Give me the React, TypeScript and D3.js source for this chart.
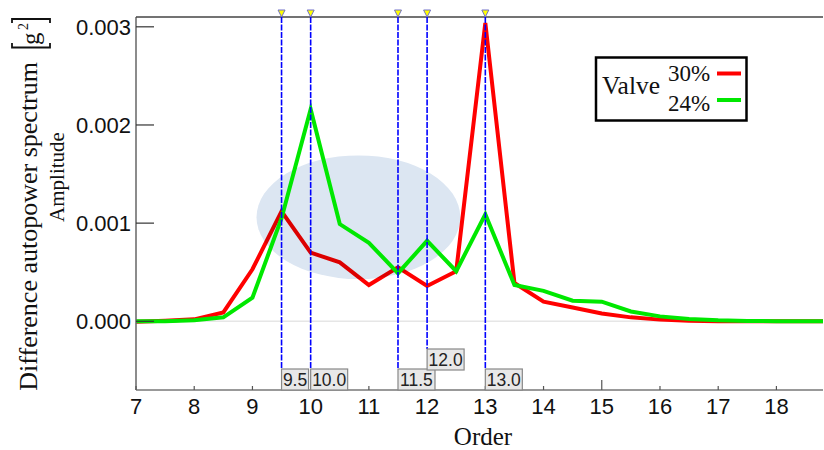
import React from "react";
import * as d3 from "d3";

// order axis samples (0.5 order step)
const orders = [7, 7.5, 8, 8.5, 9, 9.5, 10, 10.5, 11, 11.5, 12, 12.5, 13, 13.5, 14, 14.5, 15, 15.5, 16, 16.5, 17, 17.5, 18, 18.5, 19];
const valve30 = [-0.000005, 0.000005, 0.00002, 0.00009, 0.00053, 0.00112, 0.0007, 0.0006, 0.00037, 0.00055, 0.00036, 0.00051, 0.00304, 0.00039, 0.0002, 0.00014, 0.00008, 0.00004, 0.000017, 0.000005, 0, 0, 0, 0, 0];
const valve24 = [0, 0, 0.00001, 0.00004, 0.00024, 0.00105, 0.00216, 0.00099, 0.0008, 0.00049, 0.00082, 0.00051, 0.00109, 0.00037, 0.00031, 0.00021, 0.0002, 0.0001, 0.00005, 0.000024, 0.00001, 0.000004, 0, 0, 0];

const xTicks = [7, 8, 9, 10, 11, 12, 13, 14, 15, 16, 17, 18];
const yTicks = [0, 0.001, 0.002, 0.003];

// cursor markers and their label row (0 = on axis, 1 = raised)
const cursors = [9.5, 10, 11.5, 12, 13];
const cursorRows = [0, 0, 0, 1, 0];

// highlighted region (data units)
const highlight = { order: 10.82, amp: 0.00106, orderR: 1.75, ampR: 0.00063 };

const W = 824;
const H = 450;
const left = 136;
const right = 823;
const top = 17;
const bottom = 390;

const SANS = "'Liberation Sans', Arial, sans-serif";
const SERIF = "'Liberation Serif', 'Times New Roman', serif";

export default function App() {
  const x = d3.scaleLinear().domain([7, 18.8]).range([left, right]);
  const y = d3.scaleLinear().domain([-0.0007, 0.0031]).range([bottom, top]);

  const line = (vals: number[]) =>
    d3.line<number>().x((_, i) => x(orders[i])).y((d) => y(d))(vals) || "";

  const fmtY = d3.format(".3f");
  const fmtC = d3.format(".1f");

  const ex = x(highlight.order);
  const ey = y(highlight.amp);
  const erx = x(highlight.order + highlight.orderR) - ex;
  const ery = ey - y(highlight.amp + highlight.ampR);

  return (
    <svg width={W} height={H} style={{ position: "absolute", left: 0, top: 0, background: "#fff" }}>
      <defs>
        <clipPath id="plot">
          <rect x={left} y={top} width={right - left} height={bottom - top} />
        </clipPath>
      </defs>

      {/* zero line */}
      <line x1={left} x2={right} y1={y(0)} y2={y(0)} stroke="#e6e6e6" strokeWidth={1.5} />

      <g clipPath="url(#plot)">
        <path d={line(valve30)} fill="none" stroke="#ff0000" strokeWidth={4} />
        <ellipse cx={ex} cy={ey} rx={erx} ry={ery} fill="#dce6f2" style={{ mixBlendMode: "multiply" }} />
        <path d={line(valve24)} fill="none" stroke="#00e800" strokeWidth={4} />
      </g>

      {/* axes */}
      <line x1={left} x2={left} y1={top} y2={bottom} stroke="#666" strokeWidth={1.5} />
      <line x1={left} x2={right} y1={bottom} y2={bottom} stroke="#777" strokeWidth={1.5} />
      <line x1={left} x2={right} y1={top} y2={top} stroke="#444" strokeWidth={1.5} />

      {yTicks.map((t) => (
        <g key={t}>
          <line x1={left} x2={left + 18} y1={y(t)} y2={y(t)} stroke="#333" strokeWidth={1.2} />
          <text x={left - 5} y={y(t)} dy="0.36em" textAnchor="end" fontFamily={SANS} fontSize={22} fill="#111">
            {fmtY(t)}
          </text>
        </g>
      ))}

      {xTicks.map((t) => (
        <g key={t}>
          <line x1={x(t)} x2={x(t)} y1={bottom} y2={bottom - (t % 5 === 0 ? 10 : 4)} stroke="#555" strokeWidth={1.2} />
          <text x={x(t)} y={414} textAnchor="middle" fontFamily={SANS} fontSize={22} fill="#111">
            {t}
          </text>
        </g>
      ))}

      {/* cursors */}
      {cursors.map((c, i) => {
        const cx = x(c);
        const label = fmtC(c);
        const bw = label.length * 10 - 3;
        const by = bottom - 21 - cursorRows[i] * 20;
        return (
          <g key={c}>
            <line x1={cx} x2={cx} y1={top} y2={by} stroke="#0000ff" strokeWidth={1.6} strokeDasharray="6,1.5" />
            <path d={`M${cx - 3.5},10 L${cx + 3.5},10 L${cx},17 Z`} fill="#ffff00" stroke="#7070c8" strokeWidth={1} />
            <rect x={cx} y={by} width={bw} height={21} fill="#e8e8e8" stroke="#888" strokeWidth={1.2} />
            <text x={cx + bw / 2} y={by + 16.5} textAnchor="middle" fontFamily={SANS} fontSize={17.5} fill="#222">
              {label}
            </text>
          </g>
        );
      })}

      {/* legend */}
      <rect x={596} y={57.5} width={150.5} height={63} fill="#fff" stroke="#000" strokeWidth={2.5} />
      <text x={602} y={94} fontFamily={SERIF} fontSize={25.5} fill="#111">Valve</text>
      <text x={668} y={81} fontFamily={SERIF} fontSize={23} fill="#111">30%</text>
      <text x={668} y={110.5} fontFamily={SERIF} fontSize={23} fill="#111">24%</text>
      <line x1={717} x2={741} y1={73.5} y2={73.5} stroke="#ff0000" strokeWidth={4} />
      <line x1={717} x2={741} y1={100} y2={100} stroke="#00e800" strokeWidth={4} />

      {/* axis titles */}
      <text x={483} y={445} textAnchor="middle" fontFamily={SERIF} fontSize={25} fill="#111">Order</text>
      <text transform="translate(37,62) rotate(-90)" textAnchor="end" fontFamily={SERIF} fontSize={26} fill="#111">
        Difference autopower spectrum
      </text>
      <text transform="translate(39,45) rotate(-90)" fontFamily={SERIF} fontSize={25} fill="#111">g</text>
      <text transform="translate(28,30) rotate(-90)" fontFamily={SERIF} fontSize={14} fill="#111">2</text>
      <path d="M12,43 L12,47.5 L50,47.5 L50,43" fill="none" stroke="#111" strokeWidth={1.8} />
      <path d="M12,23 L12,19 L50,19 L50,23" fill="none" stroke="#111" strokeWidth={1.8} />
      <text transform="translate(64,177) rotate(-90)" textAnchor="middle" fontFamily={SERIF} fontSize={21} fill="#111">
        Amplitude
      </text>
    </svg>
  );
}
